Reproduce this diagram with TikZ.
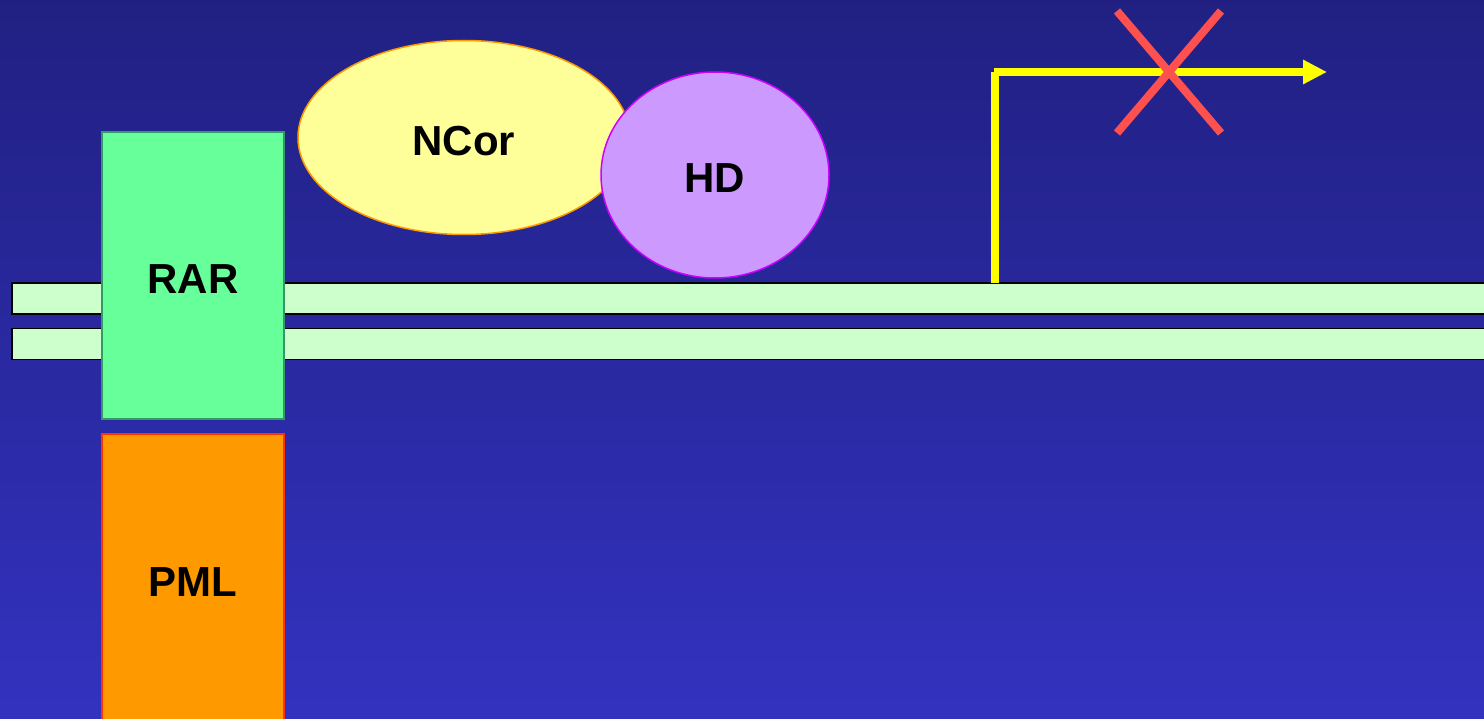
\documentclass[tikz,border=0pt]{standalone}
\usepackage{fontspec}
\setmainfont{Liberation Sans}
\usetikzlibrary{shapes.geometric,arrows.meta}
\definecolor{bgtop}{RGB}{33,32,130}
\definecolor{bgbot}{RGB}{50,50,192}
\definecolor{strandfill}{RGB}{204,255,204}
\definecolor{rarfill}{RGB}{102,255,153}
\definecolor{rardraw}{RGB}{51,153,102}
\definecolor{pmlfill}{RGB}{255,153,0}
\definecolor{pmldraw}{RGB}{255,51,0}
\definecolor{ncorfill}{RGB}{255,255,153}
\definecolor{ncordraw}{RGB}{255,153,0}
\definecolor{hdfill}{RGB}{204,153,255}
\definecolor{hddraw}{RGB}{204,0,255}
\definecolor{xred}{RGB}{255,80,80}
\definecolor{promo}{RGB}{255,255,0}
\begin{document}
\begin{tikzpicture}[x=1pt,y=-1pt,
  lbl/.style={font=\fontsize{42}{50}\selectfont\bfseries, text=black, inner sep=0pt, text height=36pt, text depth=0pt},
  strandbox/.style={rectangle, fill=strandfill, draw=black, line width=1.5pt, minimum width=1488pt, minimum height=31pt, inner sep=0pt},
  protbox/.style={rectangle, line width=1.5pt, minimum width=182pt, inner sep=0pt},
  blob/.style={ellipse, line width=1.5pt, inner sep=0pt},
  promoline/.style={draw=promo, line width=7.5pt},
  crossline/.style={draw=xred, line width=8pt}]
\useasboundingbox (0,0) rectangle (1484,719);
\clip (0,0) rectangle (1484,719);
\shade[top color=bgtop,bottom color=bgbot] (0,0) rectangle (1484,719);
% DNA strands
\node[strandbox] (s1) at (756,298.5) {};
\node[strandbox] (s2) at (756,344) {};
% proteins
\node[protbox, fill=rarfill, draw=rardraw, minimum height=287pt, lbl] (rar) at (193,275.5) {RAR};
\node[protbox, fill=pmlfill, draw=pmldraw, minimum height=294pt, lbl, text height=30pt] (pml) at (193,581) {PML};
\node[blob, fill=ncorfill, draw=ncordraw, minimum width=332pt, minimum height=194pt, lbl] (ncor) at (464,137.5) {NCor};
\node[blob, fill=hdfill, draw=hddraw, minimum width=228pt, minimum height=206pt, lbl] (hd) at (715,175) {HD};
% promoter arrow
\coordinate (tss) at (995,283);
\coordinate (corner) at (995,71.7);
\coordinate (hstart) at (994,72);
\coordinate (tip) at (1327,72);
\draw[promoline] (tss) -- (corner);
\draw[promoline, -{Triangle[length=24pt,width=23pt]}] (hstart) -- (tip);
% cross
\coordinate (xa) at (1117,11);
\coordinate (xb) at (1221,133);
\coordinate (xc) at (1117,133);
\coordinate (xd) at (1221,11);
\draw[crossline] (xa) -- (xb);
\draw[crossline] (xc) -- (xd);
\end{tikzpicture}
\end{document}
